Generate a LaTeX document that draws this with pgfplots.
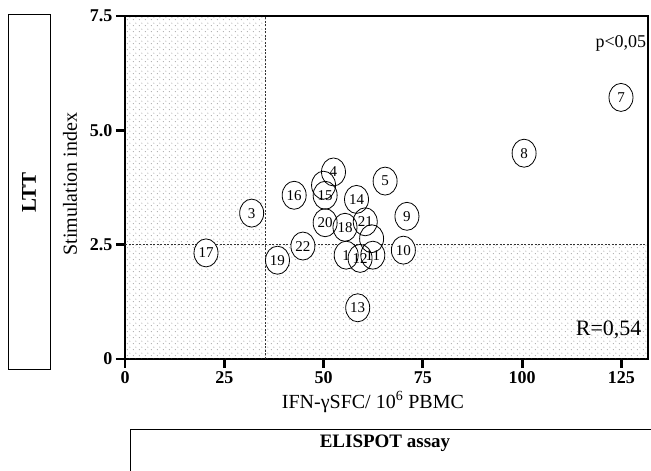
\documentclass[border=0pt]{standalone}
\usepackage{fontspec}
\setmainfont{Liberation Serif}
\usepackage{pgfplots}
\usepackage{pgfplotstable}
\pgfplotsset{compat=1.18}
\usetikzlibrary{patterns.meta,shapes.geometric}

\tikzdeclarepattern{name=sparsedots, type=uncolored, bounding box={(0pt,0pt) and (6pt,6pt)}, tile size={(6pt,6pt)}, code={\pgfpathcircle{\pgfpoint{1.5pt}{1.5pt}}{0.6pt}\pgfpathcircle{\pgfpoint{4.5pt}{4.5pt}}{0.6pt}\pgfusepath{fill}}}

% patients: IFN-g SFC vs stimulation index
\pgfplotstableread{
x     y     lab
124.9 5.72  7
100.5 4.50  8
71.0  3.12  9
65.5  3.89  5
52.5  4.09  4
50.4  3.58  15
42.6  3.58  16
58.3  3.49  14
31.9  3.19  3
50.4  2.98  20
55.4  2.88  18
60.5  3.00  21
20.4  2.32  17
38.4  2.16  19
44.8  2.47  22
55.7  2.27  1
62.4  2.27  11
59.2  2.20  12
70.1  2.38  10
58.6  1.12  13
}\pts
% circles whose number is hidden by their neighbours
\pgfplotstableread{
x     y
50.0  3.80
62.1  2.63
}\hidden

\begin{document}
\begin{tikzpicture}
\useasboundingbox (0,0) rectangle (651pt,471pt);
\clip (0,0) rectangle (651pt,471pt);

\draw[line width=1pt] (8pt,101pt) rectangle (50pt,456pt);
\node[rotate=90,font=\fontsize{21}{24}\selectfont\bfseries] at (29pt,278.5pt) {LTT};
\draw[line width=1pt] (130pt,-10pt) rectangle (700pt,41pt);
\node[font=\fontsize{19}{22}\selectfont\bfseries] at (385pt,28pt) {ELISPOT assay};

\begin{axis}[
  at={(125pt,112pt)}, anchor=south west,
  scale only axis, width=523pt, height=343pt,
  xmin=0, xmax=131.7, ymin=0, ymax=7.5,
  axis line style={line width=2.4pt},
  tick style={line width=2.8pt, black},
  major tick length=9pt,
  tick align=outside, tick pos=left,
  xtick={0,25,50,75,100,125},
  xticklabels={0,25,50,75,100,125},
  ytick={0,2.5,5,7.5},
  yticklabels={0,2.5,5.0,7.5},
  ticklabel style={font=\fontsize{18}{20}\selectfont\bfseries},
  xlabel={IFN-γSFC/ 10\textsuperscript{6} PBMC},
  ylabel={Stimulation index},
  label style={font=\fontsize{20}{23}\selectfont},
  xlabel style={at={(axis description cs:0.474,-0.125)}, anchor=center},
  ylabel style={at={(axis description cs:-0.105,0.51)}, anchor=center},
  clip=false,
]
\addplot[draw=none, pattern=sparsedots, pattern color=black!40]
  coordinates {(0,0) (0,7.5) (35.4,7.5) (35.4,2.5) (131.7,2.5) (131.7,0)} -- cycle;
\addplot[black!80, line width=0.9pt, dash pattern=on 2pt off 1.5pt]
  coordinates {(35.4,0) (35.4,7.5)};
\addplot[black!80, line width=0.9pt, dash pattern=on 2pt off 1.5pt]
  coordinates {(0,2.5) (131.7,2.5)};
% thick upper and right frame
\addplot[black, line width=2.6pt]
  coordinates {(0,7.5) (131.7,7.5) (131.7,0)};

\addplot[only marks, mark=none, point meta=explicit symbolic,
  nodes near coords={\null},
  nodes near coords style={anchor=center, ellipse, fill=white,
    draw=none, inner sep=0pt, minimum width=24pt, minimum height=28pt}]
  table[x=x, y=y, meta=lab] {\pts};
\addplot[only marks, mark=none, point meta=explicit symbolic,
  nodes near coords={\null},
  nodes near coords style={anchor=center, ellipse, draw=black,
    line width=0.8pt, inner sep=0pt, minimum width=24pt, minimum height=28pt}]
  table[x=x, y=y, meta=x] {\hidden};
\addplot[only marks, mark=none, point meta=explicit symbolic,
  nodes near coords,
  nodes near coords style={anchor=center, ellipse, draw=black,
    line width=0.8pt, inner sep=0pt, minimum width=24pt, minimum height=28pt,
    font=\fontsize{15}{16}\selectfont}]
  table[x=x, y=y, meta=lab] {\pts};

\node[anchor=west, font=\fontsize{18}{21}\selectfont] at (axis cs:117.6,6.9) {p<0,05};
\node[anchor=center, font=\fontsize{22}{25}\selectfont] at (axis cs:121.8,0.63) {R=0,54};
\end{axis}
\end{tikzpicture}
\end{document}
